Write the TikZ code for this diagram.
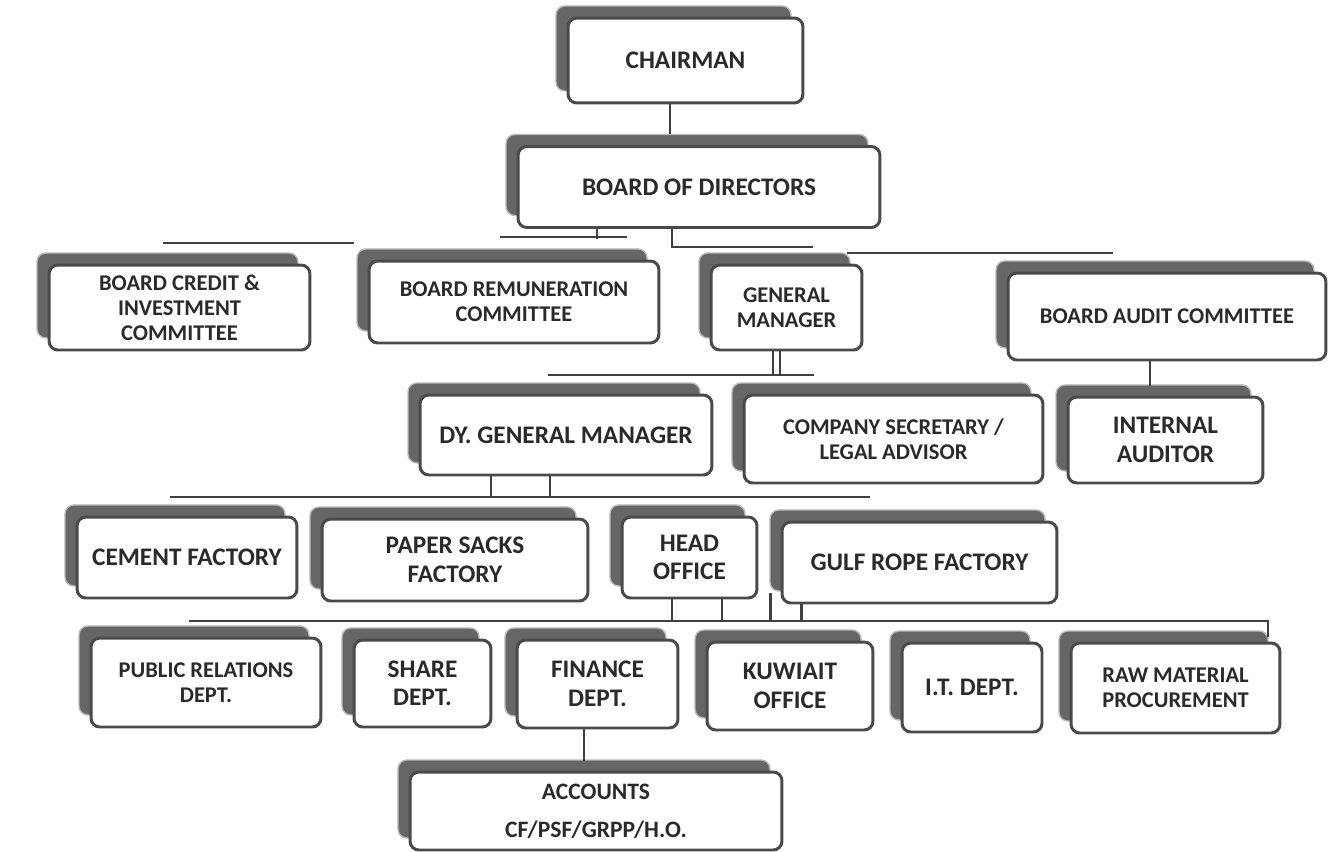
\documentclass[tikz,border=0pt]{standalone}
\usepackage{fontspec}
\setmainfont{Carlito}
\usetikzlibrary{shadows}

\definecolor{inkgray}{HTML}{2A2A2A}
\definecolor{rimgray}{HTML}{4A4A4A}
\definecolor{shadegray}{HTML}{666666}

\tikzset{
  post/.style={draw=rimgray, line width=1.7pt, fill=white, rounded corners=5pt,
    align=center, text=inkgray, inner sep=2pt,
    general shadow={fill=shadegray, draw=black!28, line width=0.8pt,
      shadow xshift=-0.24cm, shadow yshift=0.24cm}},
  bigtxt/.style={font=\bfseries\fontsize{14.4}{16.2}\selectfont},
  smalltxt/.style={font=\bfseries\fontsize{12.8}{14.2}\selectfont},
  link/.style={draw=black!75, line width=1.6pt},
}

\begin{document}
\begin{tikzpicture}[x=0.02cm,y=-0.02cm]
  \useasboundingbox[fill=white] (0,0) rectangle (1343,852);

  \node[post,bigtxt,minimum width=4.70cm,minimum height=1.70cm] (chair) at (685.5,60.5) {CHAIRMAN};
  \node[post,bigtxt,minimum width=7.24cm,minimum height=1.62cm] (board) at (699,187) {BOARD OF DIRECTORS};

  \node[post,smalltxt,minimum width=5.22cm,minimum height=1.70cm] (credit) at (179.5,307.5) {BOARD CREDIT \&\\INVESTMENT\\COMMITTEE};
  \node[post,smalltxt,minimum width=5.80cm,minimum height=1.64cm] (remun) at (514,302) {BOARD REMUNERATION\\COMMITTEE};
  \node[post,smalltxt,minimum width=3.02cm,minimum height=1.70cm] (gm) at (786.5,307.5) {GENERAL\\MANAGER};
  \node[post,smalltxt,minimum width=6.36cm,minimum height=1.74cm] (audit) at (1167,316.5) {BOARD AUDIT COMMITTEE};

  \node[post,bigtxt,minimum width=5.84cm,minimum height=1.60cm] (dygm) at (566,435) {DY. GENERAL MANAGER};
  \node[post,smalltxt,minimum width=5.98cm,minimum height=1.76cm] (secretary) at (893.5,439) {COMPANY SECRETARY /\\LEGAL ADVISOR};
  \node[post,bigtxt,minimum width=3.90cm,minimum height=1.72cm] (internal) at (1165.5,440) {INTERNAL\\AUDITOR};

  \node[post,bigtxt,minimum width=4.40cm,minimum height=1.62cm] (cement) at (187,557.5) {CEMENT FACTORY};
  \node[post,bigtxt,minimum width=5.32cm,minimum height=1.64cm] (sacks) at (455,560) {PAPER SACKS\\FACTORY};
  \node[post,bigtxt,minimum width=2.70cm,minimum height=1.62cm] (head) at (689.5,557.5) {HEAD\\OFFICE};
  \node[post,bigtxt,minimum width=5.50cm,minimum height=1.62cm] (rope) at (919.5,562.5) {GULF ROPE FACTORY};

  \node[post,smalltxt,minimum width=4.60cm,minimum height=1.78cm] (pr) at (206,682.5) {PUBLIC RELATIONS\\DEPT.};
  \node[post,bigtxt,minimum width=2.74cm,minimum height=1.74cm] (share) at (422.5,683.5) {SHARE\\DEPT.};
  \node[post,bigtxt,minimum width=3.22cm,minimum height=1.76cm] (finance) at (597.5,684) {FINANCE\\DEPT.};
  \node[post,bigtxt,minimum width=3.32cm,minimum height=1.76cm] (kuwait) at (790,686) {KUWIAIT\\OFFICE};
  \node[post,bigtxt,minimum width=2.80cm,minimum height=1.78cm] (itdept) at (972,687.5) {I.T. DEPT.};
  \node[post,smalltxt,minimum width=4.18cm,minimum height=1.80cm] (raw) at (1175.5,688) {RAW MATERIAL\\PROCUREMENT};

  \node[post,font=\bfseries\fontsize{13.4}{21.5}\selectfont,minimum width=7.44cm,minimum height=1.56cm] (accounts) at (596,811) {ACCOUNTS\\CF/PSF/GRPP/H.O.};

  % bus lines
  \coordinate (crw) at (163,243);  \coordinate (cre) at (354,243);
  \coordinate (bdw) at (500,237);  \coordinate (bde) at (627,237);
  \coordinate (gmb) at (813,247);
  \coordinate (auw) at (847,253);  \coordinate (aue) at (1113,253);
  \coordinate (dyw) at (548,375);  \coordinate (dye) at (814,375);
  \coordinate (fcw) at (170,497);  \coordinate (fce) at (870,497);
  \coordinate (dpw) at (189,621);  \coordinate (dpe) at (1268,621);

  \draw[link] ([xshift=-0.31cm]chair.south) -- ++(0,30);

  \draw[link] (crw) -- (cre);
  \draw[link] (bdw) -- (bde);
  \draw[link] ([xshift=-2.04cm]board.south) -- ++(0,10);
  \draw[link] ([xshift=-0.54cm]board.south) |- (gmb);
  \draw[link] (auw) -- (aue);

  \draw[link] (dyw) -- (dye);
  \draw[link] ([xshift=-0.27cm]gm.south) -- ++(0,25);
  \draw[link] ([xshift=-0.13cm]gm.south) -- ++(0,25);
  \draw[link] ([xshift=-0.34cm]audit.south) -- ++(0,25);

  \draw[link] (fcw) -- (fce);
  \draw[link] ([xshift=-1.50cm]dygm.south) -- ++(0,22);
  \draw[link] ([xshift=-0.32cm]dygm.south) -- ++(0,22);

  \draw[link] (dpw) -- (dpe) -- ++(0,16);
  \draw[link] ([xshift=-0.35cm]head.south) -- ++(0,23);
  \draw[link] ([xshift=0.65cm]head.south) -- ++(0,23);
  \draw[link] ([shift={(-0.2cm,0.22cm)}]rope.south west) -- ++(0,29);
  \draw[link] ([xshift=0.42cm]rope.south west) -- ++(0,18);

  \draw[link] ([xshift=-0.27cm]finance.south) -- ++(0,32);
\end{tikzpicture}
\end{document}
